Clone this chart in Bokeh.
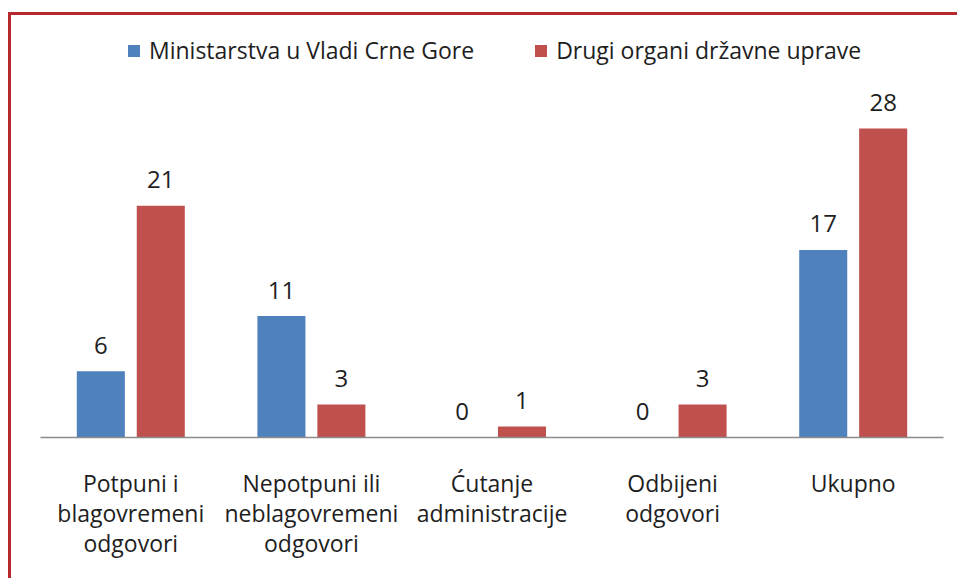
from bokeh.plotting import figure
from bokeh.models import ColumnDataSource, FactorRange, Range1d, Legend, LegendItem
from bokeh.transform import dodge
from bokeh.core.properties import value
from bokeh.embed import file_html
from bokeh.resources import INLINE

categories = ["Potpuni i\nblagovremeni\nodgovori",
              "Nepotpuni ili\nneblagovremeni\nodgovori",
              "Ćutanje\nadministracije",
              "Odbijeni\nodgovori",
              "Ukupno"]
series_names = ["Ministarstva u Vladi Crne Gore", "Drugi organi državne uprave"]
ministarstva = [6, 11, 0, 0, 17]
drugi = [21, 3, 1, 3, 28]

BLUE = "#4F81BD"
RED = "#C0504D"
FONT = "Open Sans"
FS = "23px"
TXT = "#1e1e1e"

src = ColumnDataSource(dict(cat=categories, a=ministarstva, b=drugi,
                            la=[str(v) for v in ministarstva],
                            lb=[str(v) for v in drugi]))

p = figure(width=949, height=566, output_backend="svg", toolbar_location=None,
           x_range=FactorRange(*categories, range_padding=0),
           y_range=Range1d(0, 38.24),
           min_border_left=29, min_border_right=17, min_border_top=0, min_border_bottom=144)
p.x_range.range_padding = 0
p.outline_line_color = None
p.xgrid.visible = False
p.ygrid.visible = False
p.yaxis.visible = False
p.background_fill_color = "white"
p.border_fill_color = "white"

ra = p.vbar(x=dodge("cat", -0.166, range=p.x_range), top="a", width=0.266, source=src,
            fill_color=BLUE, line_color=None)
rb = p.vbar(x=dodge("cat", 0.166, range=p.x_range), top="b", width=0.266, source=src,
            fill_color=RED, line_color=None)

for col, lab, off in (("a", "la", -0.166), ("b", "lb", 0.166)):
    p.text(x=dodge("cat", off, range=p.x_range), y=col, text=lab, source=src,
           text_align="center", text_baseline="alphabetic", y_offset=-26,
           text_font=value(FONT), text_font_size="24px", text_color=TXT)

ax = p.xaxis[0]
ax.axis_line_color = "#8c8c8c"
ax.axis_line_width = 1.5
ax.major_tick_line_color = None
ax.minor_tick_line_color = None
ax.major_label_text_font = FONT
ax.major_label_text_font_size = FS
ax.major_label_text_color = TXT
ax.major_label_text_line_height = 0.95
ax.major_label_standoff = 23
ax.major_label_orientation = "horizontal"

legend = Legend(items=[LegendItem(label=series_names[0], renderers=[ra]),
                       LegendItem(label=series_names[1], renderers=[rb])],
                orientation="horizontal", location=(86, 371),
                glyph_width=15, glyph_height=15, label_standoff=8, spacing=59,
                padding=0, margin=0, border_line_color=None, background_fill_alpha=0,
                label_text_font=FONT, label_text_font_size=FS, label_text_color=TXT)
p.add_layout(legend)

p.styles = {"border-left": "3px solid #B5292F", "border-top": "3px solid #B5292F",
            "margin-top": "12px", "margin-left": "8px"}

open("out.html", "w").write(file_html(p, INLINE))
